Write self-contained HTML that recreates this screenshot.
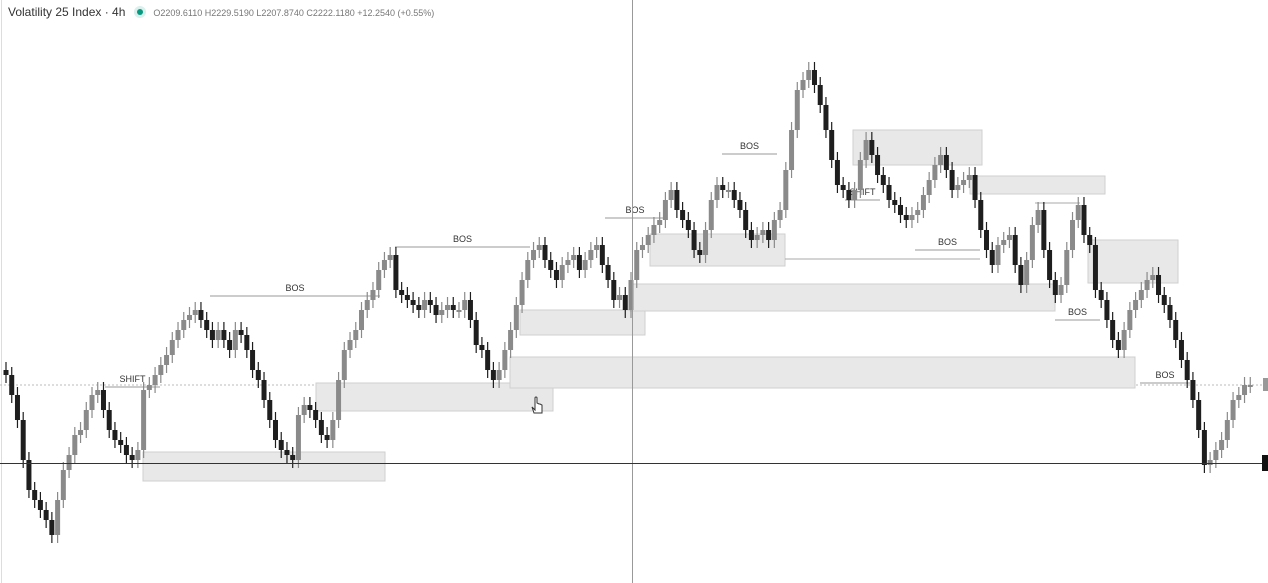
<!DOCTYPE html>
<html><head><meta charset="utf-8"><style>
body{margin:0;background:#fff;width:1268px;height:583px;overflow:hidden;font-family:"Liberation Sans",sans-serif}
#hdr{position:absolute;left:8px;top:5px;font-size:12px;color:#333;white-space:nowrap}
#hdr .ohlc{font-size:9px;color:#777;margin-left:10px}
#hdr .dot{display:inline-block;width:6px;height:6px;border-radius:3px;background:#089981;margin-left:12px;box-shadow:0 0 0 3px #d9f0ec;vertical-align:1px}
</style></head><body>
<div id="hdr"><span>Volatility 25 Index · 4h</span><span class="dot"></span><span class="ohlc">O2209.6110 H2229.5190 L2207.8740 C2222.1180 +12.2540 (+0.55%)</span></div>
<svg id="c" width="1268" height="583" style="position:absolute;left:0;top:0"></svg>
<script>
// price axis: y = PMAX - price (1px per unit)
const PMAX = 2583;
const closesY = [375,395,420,460,490,500,510,520,535,500,470,455,435,430,410,395,390,410,430,440,445,455,460,450,390,385,375,365,355,340,330,320,315,310,320,330,340,330,340,350,330,335,350,370,380,400,420,440,450,455,460,415,405,410,420,435,440,420,380,350,340,330,310,300,290,270,260,255,290,295,300,305,310,300,305,315,310,305,310,310,300,320,345,350,370,380,370,350,330,305,280,260,250,245,260,270,280,265,260,255,270,260,250,245,265,280,300,295,310,280,250,245,235,225,220,200,190,210,220,230,250,255,230,200,185,190,190,200,210,230,240,235,230,240,220,210,170,130,90,80,70,85,105,130,160,185,190,200,190,160,140,155,175,185,200,205,215,220,215,210,195,180,165,155,170,190,185,180,175,200,230,250,265,245,240,235,265,285,260,225,210,250,280,295,285,250,220,205,235,245,290,300,320,340,350,330,310,300,290,280,275,295,305,320,340,360,380,400,430,465,460,450,440,420,400,395,385,385];
const closes = closesY.map(v => PMAX - v);
const zones = [[143,385,2131,2102],[316,553,2200,2172],[520,645,2273,2248],[510,1135,2226,2195],[630,1055,2299,2272],[650,785,2349,2317],[853,982,2453,2418],[970,1105,2407,2389],[1088,1178,2343,2300]];
const labels = ["BOS","BOS","BOS","BOS","SHIFT","SHIFT","BOS","BOS","BOS"];
const levels = [[210,380,2287],[395,530,2336],[605,665,2365],[722,777,2429],[105,160,2196],[845,880,2383],[915,980,2333],[1055,1100,2263],[1140,1190,2200]];
const y = p => PMAX - p;
const svg = document.getElementById('c');
const NS = 'http://www.w3.org/2000/svg';
function mk(t, a){const e=document.createElementNS(NS,t);for(const k in a)e.setAttribute(k,a[k]);svg.appendChild(e);return e;}
let e = mk('line',{x1:1.5,y1:0,x2:1.5,y2:583,stroke:'#ddd'});


e = mk('line',{x1:0,y1:385,x2:1268,y2:385,stroke:'#bbb','stroke-dasharray':'2,2'});


zones.forEach((z,i)=>{
  const r = mk('rect',{x:z[0],y:y(z[2]),width:z[1]-z[0],height:z[2]-z[3],fill:'#e8e8e8',stroke:'#cfcfcf'});
  
  
});
levels.forEach((l,i)=>{
  const ln = mk('line',{x1:l[0],y1:y(l[2]),x2:l[1],y2:y(l[2]),stroke:'#999','stroke-width':1});
  
  
  const t = mk('text',{x:(l[0]+l[1])/2,y:y(l[2])-5,'font-size':9,'text-anchor':'middle',fill:'#333','font-family':'Liberation Sans, sans-serif'});
  t.textContent = labels[i];
  
  
});
[[785,980,2324],[1035,1080,2380]].forEach(l=>{
  const ln = mk('line',{x1:l[0],y1:y(l[2]),x2:l[1],y2:y(l[2]),stroke:'#aaa'});
  
  
});
const n = closes.length, step = 1250/n;
for(let i=0;i<n;i++){
  const c = closes[i], o = i ? closes[i-1] : c+5;
  const x = 6 + i*step;
  const up = c >= o;
  const col = up ? '#8a8a8a' : '#1e1e1e';
  const top = y(Math.max(o,c)), bot = y(Math.min(o,c));
  const w = mk('line',{x1:x,y1:top-8,x2:x,y2:bot+8,stroke:col,'stroke-width':1.2});
  
  
  const b = mk('rect',{x:x-2.5,y:top,width:5,height:Math.max(2,bot-top),fill:col});
  
  
}
e = mk('line',{x1:632.5,y1:0,x2:632.5,y2:583,stroke:'#999'});


e = mk('line',{x1:0,y1:463.5,x2:1268,y2:463.5,stroke:'#333'});


e = mk('rect',{x:1262,y:455,width:6,height:16,fill:'#111'});


e = mk('rect',{x:1263,y:378,width:5,height:13,fill:'#999'});


const cur = mk('path',{d:'M535 398 v12 l-3 -3 l2 6 h8 v-8 l-2 -1 l-1 0 l-2 -1 v-5 a1 1 0 0 0 -2 0 z',fill:'#fff',stroke:'#333','stroke-width':1});


</script>
</body></html>
